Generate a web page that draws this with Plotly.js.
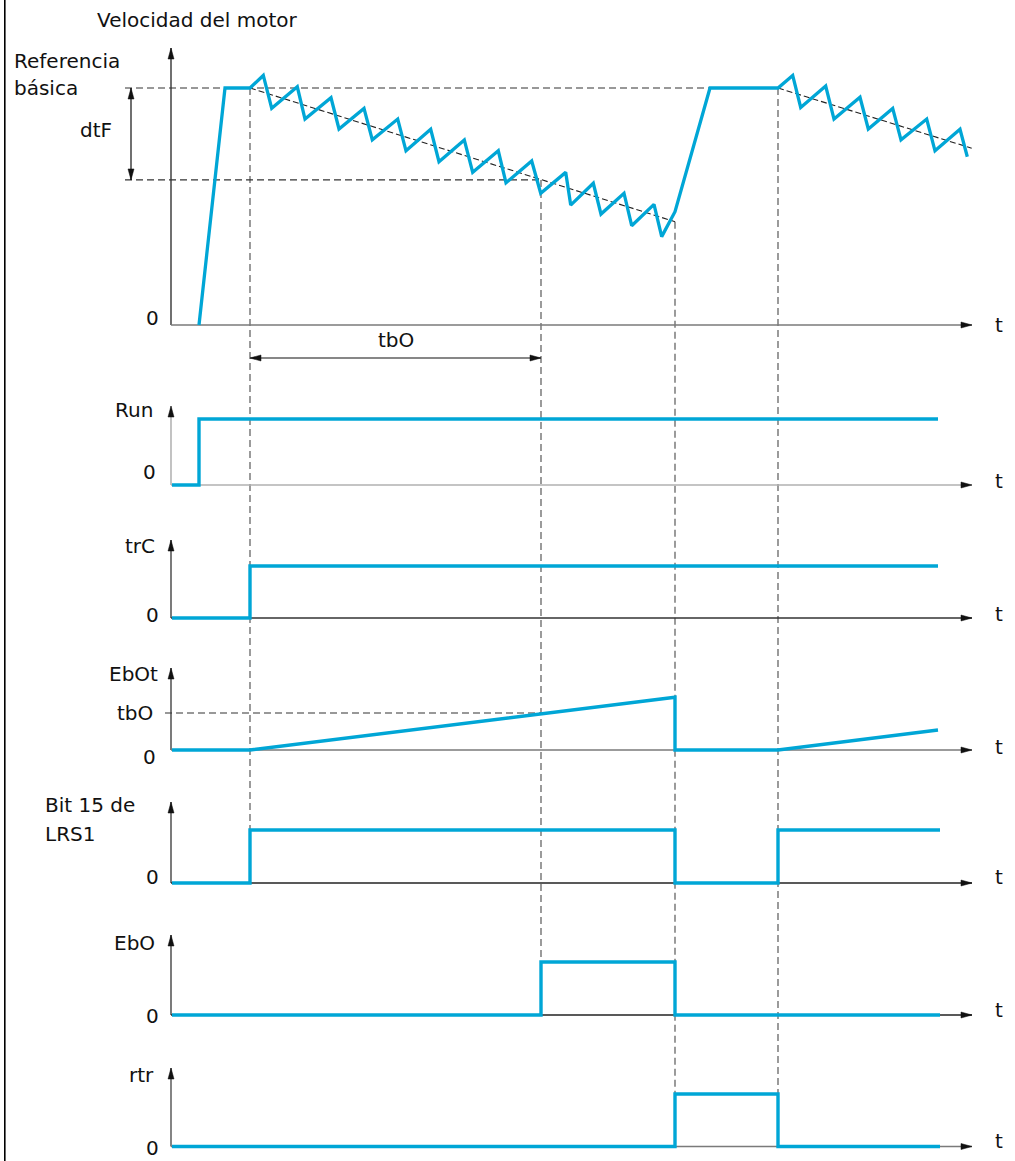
<!DOCTYPE html>
<html><head><meta charset="utf-8">
<script src="https://cdn.plot.ly/plotly-3.0.1.min.js"></script>
<style>html,body{margin:0;padding:0;background:#fff}</style>
</head><body><div id="chart" style="width:1015px;height:1161px"></div>
<script>
// ---------------- DATA ----------------
// event times (time units)
const tRun = 2.7, t1 = 7.8, t2 = 36.9, t3 = 50.3, t4 = 60.6, tEndA = 76.6, tEndB = 76.8, tAxisEnd = 80.0;
// motor speed (% of basic reference)
const speedT = [2.7,5.3,7.8,9.13,9.97,12.53,13.3,15.9,16.7,19.2,20.03,22.57,23.4,25.87,26.7,29.23,30.07,32.63,33.4,35.97,36.87,39.37,39.87,42.13,42.9,45.2,45.97,48.2,48.97,50.3,53.8,60.6,62.07,62.87,65.37,66.2,68.8,69.63,72.07,72.9,75.47,76.3,78.8,79.53];
const speedV = [0,100,100,105.3,91.4,100.5,86.9,95.9,82.7,91.4,78.1,86.9,73.5,82.6,68.9,78.1,64.4,73.5,60.0,69.2,55.6,64.4,50.6,59.8,46.8,55.6,41.9,50.9,37.3,47.8,100,100,105.3,91.8,100.8,86.9,96.1,82.7,91.4,78.1,86.9,73.5,82.6,71.0];
const refSpeed = 100, dtFLevel = 61.2;
const trend1T = [7.8, 50.3], trend1V = [100, 43.6];
const trend2T = [60.6, 79.97], trend2V = [100, 74.6];
// digital / counter signals
const runT = [0, tRun, tEndA], runV = [0, 1, 1];
const trcT = [0, t1, tEndA], trcV = [0, 1, 1];
const ebotT = [0, t1, t3, t3, t4, tEndA], ebotV = [0, 0, 41.5, 0, 0, 15.7];
const tbOValue = 29.1;
const bitT = [0, t1, t3, t4, tEndB], bitV = [0, 1, 0, 1, 1];
const eboT = [0, t2, t3, tEndB], eboV = [0, 1, 0, 0];
const rtrT = [0, t3, t4, tEndB], rtrV = [0, 1, 0, 0];
// texts
const titleText = 'Velocidad del motor';
const refLabel = ['Referencia', 'básica'];
const dtFLabel = 'dtF', tbOLabel = 'tbO', zeroLabel = '0', timeLabel = 't';
const panelLabels = ['Run', 'trC', 'EbOt', 'Bit 15 de', 'LRS1', 'EbO', 'rtr'];

// ---------------- LAYOUT HELPERS ----------------
const W = 1015, H = 1161;
const X0PX = 172, XPPU = 10;       // x pixel of t=0 and px per time unit
const BLUE = '#00a6d6';
const FONT = 'DejaVu Sans';
// panel: [axis id, base pixel, px per unit]
const panels = {
  speed: ['y',  325, 2.37],
  run:   ['y2', 485, 66],
  trc:   ['y3', 618, 52],
  ebot:  ['y4', 750, 1.2715],
  bit:   ['y5', 883, 53],
  ebo:   ['y6', 1015, 53],
  rtr:   ['y7', 1146.5, 52.5]
};
function yRange(p){ return [-(H - p[1]) / p[2], p[1] / p[2]]; }
function toPaperY(p, v){ return 1 - (p[1] - v * p[2]) / H; }
function px2t(x){ return (x - X0PX) / XPPU; }

const layout = {
  width: W, height: H, margin: {l:0, r:0, t:0, b:0},
  paper_bgcolor: '#fff', plot_bgcolor: '#fff', showlegend: false,
  xaxis: {range: [px2t(0), px2t(W)], visible: false, fixedrange: true},
  shapes: [], annotations: []
};
Object.keys(panels).forEach(k => {
  const p = panels[k];
  const name = p[0] === 'y' ? 'yaxis' : 'yaxis' + p[0].slice(1);
  layout[name] = {range: yRange(p), visible: false, fixedrange: true};
  if (p[0] !== 'y') { layout[name].overlaying = 'y'; layout[name].anchor = 'x'; }
});

function line(xref, yref, x0, y0, x1, y1, color, width, dash){
  layout.shapes.push({type:'line', xref, yref, x0, y0, x1, y1,
    line:{color, width, dash: dash || 'solid'}, layer:'below'});
}
function head(xref, yref, x, y, dir, color){
  const L = 11, h = 3;
  const paths = {
    right: `M0,0L${-L},${h}L${-L},${-h}Z`,
    left:  `M0,0L${L},${h}L${L},${-h}Z`,
    up:    `M0,0L${-h},${-L}L${h},${-L}Z`,
    down:  `M0,0L${-h},${L}L${h},${L}Z`
  };
  layout.shapes.push({type:'path', xref, yref, xsizemode:'pixel', ysizemode:'pixel',
    xanchor:x, yanchor:y, path:paths[dir], fillcolor:color, line:{color, width:0.5}});
}
function text(t, xpx, ypx, xanchor){
  layout.annotations.push({text:t, xref:'paper', yref:'paper', x:xpx / W, y:1 - ypx / H,
    xanchor: xanchor || 'center', yanchor:'middle', showarrow:false,
    font:{family:FONT, size:20, color:'#111'}});
}

// axes per panel: [panel, y-tip px, y-axis color, x-axis color]
const axisDefs = [
  ['speed', 48, '#111', '#7a7a7a'],
  ['run', 406, '#9a9a9a', '#b0b0b0'],
  ['trc', 540, '#222', '#333'],
  ['ebot', 668, '#222', '#7a7a7a'],
  ['bit', 802, '#222', '#222'],
  ['ebo', 935, '#222', '#222'],
  ['rtr', 1068, '#333', '#7a7a7a']
];
const yAxisT = -0.1;
axisDefs.forEach(a => {
  const p = panels[a[0]];
  const tipV = (p[1] - a[1]) / p[2];
  line('x', p[0], yAxisT, 0, yAxisT, tipV, a[2], 1.2);
  head('x', p[0], yAxisT, tipV, 'up', '#111');
  line('x', p[0], yAxisT, 0, tAxisEnd, 0, a[3], 1.5);
  head('x', p[0], tAxisEnd, 0, 'right', '#111');
});

// dashed reference lines in speed panel
const S = panels.speed;
line('x', 'y', px2t(125), refSpeed, t4, refSpeed, '#333', 1.2, '7px,4px');
line('x', 'y', px2t(125), dtFLevel, t2, dtFLevel, '#333', 1.2, '7px,4px');
line('x', 'y', trend1T[0], trend1V[0], trend1T[1], trend1V[1], '#222', 1.1, '6px,3px');
line('x', 'y', trend2T[0], trend2V[0], trend2T[1], trend2V[1], '#222', 1.1, '6px,3px');
// dtF double arrow
const dtFx = px2t(131);
line('x', 'y', dtFx, refSpeed, dtFx, dtFLevel, '#111', 1.2);
head('x', 'y', dtFx, refSpeed, 'up', '#111');
head('x', 'y', dtFx, dtFLevel, 'down', '#111');
// tbO double arrow
const tbOy = 1 - 358 / H;
line('x', 'paper', t1, tbOy, t2, tbOy, '#111', 1.2);
head('x', 'paper', t1, tbOy, 'left', '#111');
head('x', 'paper', t2, tbOy, 'right', '#111');
// EbOt tbO level
line('x', panels.ebot[0], px2t(165), tbOValue, t2, tbOValue, '#333', 1.2, '7px,4px');

// vertical dashed event lines
const vdash = '#666';
line('x', 'paper', t1, toPaperY(S, refSpeed), t1, toPaperY(panels.bit, 0), vdash, 1.3, '7px,4px');
line('x', 'paper', t2, toPaperY(S, dtFLevel), t2, toPaperY(panels.ebo, 0), vdash, 1.3, '7px,4px');
line('x', 'paper', t3, toPaperY(S, trend1V[1]), t3, toPaperY(panels.rtr, 0), vdash, 1.3, '7px,4px');
line('x', 'paper', t4, toPaperY(S, refSpeed), t4, toPaperY(panels.rtr, 0), vdash, 1.3, '7px,4px');

// left border
layout.shapes.push({type:'line', xref:'paper', yref:'paper', x0:4.8/W, x1:4.8/W, y0:0, y1:1,
  line:{color:'#000', width:1.6}});

// texts
text(titleText, 95, 20, 'left');
text(refLabel[0], 12, 61, 'left');
text(refLabel[1], 12, 88, 'left');
text(dtFLabel, 96, 130);
text(tbOLabel, 396, 340);
text(panelLabels[0], 155, 410, 'right');
text(panelLabels[1], 157, 546, 'right');
text(panelLabels[2], 160, 674, 'right');
text(tbOLabel, 155, 713, 'right');
text(panelLabels[3], 43, 805, 'left');
text(panelLabels[4], 43, 834, 'left');
text(panelLabels[5], 157, 943, 'right');
text(panelLabels[6], 156, 1075, 'right');
[[152,318],[149,472],[152,615],[149,757],[152,877],[152,1016],[152,1148]].forEach(z => text(zeroLabel, z[0], z[1]));
[325,481,614,747,877,1010,1141].forEach(y => text(timeLabel, 999, y));

// ---------------- TRACES ----------------
function tr(x, y, axis, shape, w){
  return {x, y, yaxis: axis, type:'scatter', mode:'lines', hoverinfo:'skip',
    line:{color: BLUE, width: w || 3.4, shape: shape || 'linear'}};
}
const data = [
  tr(speedT, speedV, 'y', 'linear', 3.3),
  tr(runT, runV, 'y2', 'hv'),
  tr(trcT, trcV, 'y3', 'hv'),
  tr(ebotT, ebotV, 'y4', 'linear'),
  tr(bitT, bitV, 'y5', 'hv'),
  tr(eboT, eboV, 'y6', 'hv'),
  tr(rtrT, rtrV, 'y7', 'hv')
];
Plotly.newPlot('chart', data, layout, {displayModeBar:false, staticPlot:true});
</script></body></html>
